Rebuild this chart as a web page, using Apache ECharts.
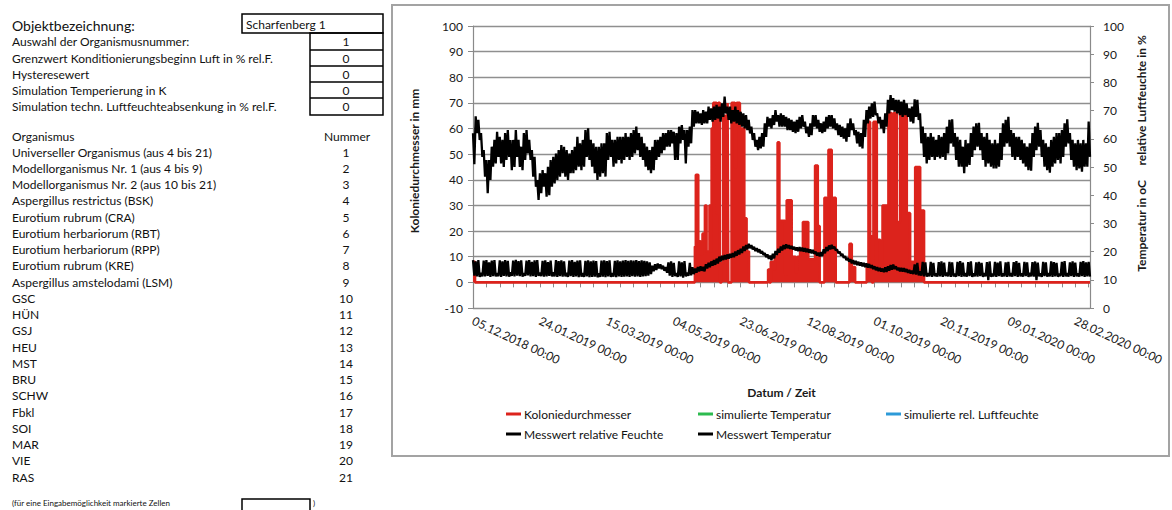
<!DOCTYPE html>
<html><head><meta charset="utf-8">
<script src="https://cdn.jsdelivr.net/npm/echarts@6.0.0/dist/echarts.min.js"></script>
<style>html,body{margin:0;padding:0;background:#fff;}#c{width:1172px;height:510px;}</style>
</head><body><div id="c"></div>
<script>
// ---------- data ----------
const xTickLabels = ['05.12.2018 00:00','24.01.2019 00:00','15.03.2019 00:00','04.05.2019 00:00','23.06.2019 00:00','12.08.2019 00:00','01.10.2019 00:00','20.11.2019 00:00','09.01.2020 00:00','28.02.2020 00:00'];
const xMaxDay = 461; // days after 05.12.2018

// Messwert relative Feuchte: 2-day blocks, upper / lower envelope (%)
const rhHigh = [62,68,66.7,62,56,52.5,52.5,57.2,59.6,62.5,
60.7,59.6,62,63.1,59.6,59.6,63.1,59.6,57.2,62,
63.1,59.6,56,53.6,45.4,47.8,48.9,47.8,50.1,52.5,
53.6,54.8,56,57.8,57.2,56,54.8,56,57.2,60.7,
58.4,59.6,63.1,63.7,59.6,58.4,57.2,57.2,58.4,58.4,
62,62.5,59.6,59.6,60.7,60.7,60.7,62,60.7,62,
63.1,64.3,62,60.7,58.4,57.2,56,57.2,59.6,59.6,
60.7,62,62,63.1,63.1,62.5,62,64.3,64.9,63.1,
63.1,64.3,70.2,70.2,69.6,69,70.2,69.6,71.4,70.8,
71.4,72,71.4,72.6,75,71.4,71.4,70.2,71.4,70.2,
69.6,69,68.4,66.7,64.3,62,59.6,60.7,62,65.5,
67.8,67.2,68.4,70.2,68.4,69,68.4,67.8,67.2,66.7,
66.1,66.7,67.8,68.4,66.1,64.3,65.5,68.4,68.4,66.7,
65.5,66.1,67.8,68.4,68.4,67.2,65.5,64.9,64.3,63.7,
65.5,67.2,65.5,63.1,62.5,62,66.7,70.2,71.4,72.6,
73.2,69,67.8,66.7,69,73.8,75.5,74.4,73.8,73.8,
73.2,73.8,72.6,70.8,71.4,74,73.8,69,64.3,62,
60.7,62,60.7,59.6,61.3,60.7,62,64.3,66.7,66.9,
62,60.7,59.6,57.2,59.6,58.4,62,64.3,65.5,65.7,
62,60.7,62,59.6,58.4,59.6,58.4,62,65.5,66.7,
67.8,63.1,62,60.7,60.7,59.6,58.4,57.2,58.4,62,
64.3,65.7,63.1,59.6,58.4,57.2,59.6,60.7,62,62,
63.1,65.5,66.9,62,59.6,58.4,59.6,58.4,59.6,58.4,
66.1];
const rhLow = [51,62,59.6,53.6,46.6,40.7,45.4,50.1,51.3,53.6,
51.3,50,52.5,53.6,48.9,50,53.6,50,48.9,52.5,
54.8,52.5,46.6,43,38.3,40.7,43,39.5,40,43,
44.2,45.4,46.6,47.8,46.6,45.4,47.8,47.8,48.9,50.1,
48.9,50.1,53.6,52.5,50.1,47.8,45.4,46.6,47.8,46.6,
52.5,53.6,50.1,51.3,52.5,51.3,52.5,53.6,52.5,53.6,
54.8,56,53.6,52.5,50.1,48.9,47.8,48.9,52.5,53.6,
54.8,56,57.2,57.2,58.4,52.5,52.5,58.4,59.6,51.3,
57.2,58.4,64.3,65.5,65.5,64.9,65.5,65.5,66.7,66.1,
66.7,67.2,66.1,67.8,69,66.7,65.5,66.1,65.5,64.9,
64.3,63.7,63.1,61.9,59.6,57.2,56,56.6,57.2,60.7,
64.3,63.7,64.9,66.1,64.3,64.3,64.3,63.1,63.1,62.5,
62,62.5,63.7,64.3,62,60.7,61.3,64.3,63.7,62.5,
62,62.5,63.7,64.3,63.7,63.1,61.3,60.7,60.1,59,
60.7,63.1,61.3,58.4,57.2,56.6,60.7,65.5,67.2,67.8,
68.4,65.5,63.7,62,64.3,69,70.2,69.6,69,68.4,
67.8,68.4,67.8,66.1,65.5,67.8,66.7,58.4,53.6,51.3,
52.5,53.6,52.5,53.6,53,53.6,52.5,54.8,58.4,57.2,
52.5,50.1,50.1,47.8,50.1,50.7,53.6,56,57.2,56,
52.5,50.1,51.3,50.1,49.5,49.5,50.1,52.5,57.2,58.4,
57.2,53.6,52.5,53.6,52.5,51.3,50.1,48.9,48.7,53.6,
56,57.2,53.6,50.1,48.9,48,50.1,51.3,52.5,51.3,
53.6,57.2,58.4,52.5,50.1,48.9,49.5,48.3,50.1,50.1,
53.6];

// Messwert Temperatur: 2-day blocks, upper / lower envelope (°C)
const tempHigh = [17,16.5,17,12.5,16.8,17,16.2,16.8,17,12.3,
16.9,16.5,17,16.7,12.6,16.8,17.1,16.6,16.9,12.4,
16.8,17,16.4,16.9,17,12.5,16.7,16.9,16.3,16.8,
12.6,17,16.6,16.9,16.5,12.5,16.8,17,16.4,16.8,
16.9,12.4,16.7,16.9,16.5,16.8,16.6,12.3,16.8,16.9,
16.6,16.9,12.4,16.7,16.9,16.5,16.8,17,16.7,16.9,
16.8,17,16.6,16.9,16.7,16.5,16.2,15,15.5,15.8,
15.5,15,14.5,16.2,16.5,16,12.4,16.5,16.2,16.6,
12.5,16,14.5,14,14.5,14.8,14.6,15.5,16,16.5,
17,17.5,18.2,18.5,18.8,19,19.2,19.5,20,20.5,
21,21.8,22.3,22.8,22.3,21.7,21.2,20.8,20.2,19.5,
19,18.6,19.2,20.2,21,21.8,22.3,22.6,22.3,22,
21.7,21.5,21.6,21.4,21.2,21,20.8,20.6,20,19.6,
19.8,20.8,21.6,22.2,22.4,21.8,20.8,20,19.2,18.4,
17.8,17.3,17,16.7,16.4,16.2,16,15.8,15.6,15.2,
14.8,14.5,14.2,14,14.4,14.8,15.2,15.4,14.8,14.3,
14.2,14.1,13.8,13.5,13.2,15.5,16,13,16.4,16.2,
12.4,16.4,16,12.3,16.3,16.5,16.1,12.5,16.4,16.2,
12.2,16.4,16.6,16.1,12.4,16.3,16.5,12.3,16.2,16.4,
16,12.4,16.3,16.5,12.2,16.4,16.1,16.5,12.3,16.2,
16.4,12.4,16.3,16.6,16,12.3,16.4,16.2,12.5,16.3,
16.5,16.1,12.3,16.4,16.2,12.4,16.5,16.3,16,12.2,
16.4,16.6,12.4,16.2,16.5,16.1,12.3,16.4,16.6,16.2,
16.4];
const tempLow = [11.5,11.2,11,11.2,11.2,11.4,11,11.3,11.2,11.3,
11,11.4,11.2,11.1,11.4,11.2,11.5,11.3,11.1,11.4,
11.6,11.2,11.3,11,11.4,11.3,11.1,11.2,11.4,11.2,
11.2,11,11.3,11.1,11.2,11,11.3,11,11.2,10.9,
11.1,11,11.2,10.9,11,11.1,10.9,11,11.1,10.9,
11.2,11,11.1,10.9,11.2,11,11.1,11.2,11,11.3,
11.1,11.2,11,11.2,11.3,11.5,12,13,13.5,14,
13.8,13.2,12.5,11.5,11,11.3,11,11.2,10.8,11.2,
11.4,11.6,12,12.5,13,13.2,13,14,14.5,15,
15.3,15.8,16.5,17,17.2,17.5,17.8,18,18.5,19,
19.5,20.2,20.8,21.2,20.8,20.2,19.8,19.4,18.8,18,
17.4,17,17.6,18.8,19.6,20.4,20.9,21.2,21,20.8,
20.4,20.2,20.2,20,19.8,19.6,19.4,19.2,18.6,18.3,
18.4,19.4,20.2,20.8,21,20.4,19.4,18.6,17.8,17,
16.4,15.8,15.5,15.2,15,14.8,14.5,14.3,14.2,13.8,
13.4,13.1,12.9,12.7,12.8,13.2,13.6,13.8,13.4,13,
12.9,12.8,12.5,12.2,12,11.8,11.6,11.5,11.2,11.1,
11.2,11,11.3,11.1,11.2,11,11.3,11.2,11,11.2,
11.1,11.3,11,11.2,11.1,11.3,11,11.2,11.1,11.3,
11,11.2,9.9,11.1,11.2,11,11.3,11.1,11.2,11,
11.2,11.1,11.3,11,11.2,11.1,11.3,11,11.2,11.1,
9.9,11.2,11,11.3,11.1,11.2,11,11.2,11.1,11.3,
11,11.2,11.1,11.3,11,11.2,11.1,11.3,11,11.2,
11.1];

// Koloniedurchmesser (mm): [day, value] held until next entry
const colonyData = [[0,8],[1.5,0],
[165.8,14],[166.5,42],[168.3,16],[170,11],[171.5,19],[173.3,30],[174.5,12],[176.7,30],[177.5,12],[178.3,60],[179.5,70],[182,27],[183.2,70],[184.5,0],[185.7,7.5],[187,65],[190.2,70],[190.7,0],[193.2,70],[195.7,45],[197,70],[199.4,60],[202.7,25],[204.4,12],[206.2,0],
[220.5,5],[221.5,0],[222.5,8],[224.4,5],[225.5,10],[227.6,54.6],[228.9,24],[233.1,3],[234.4,32],[238.1,10],[241,4],[242.5,10],[244.4,12],[246.5,23.5],[250.5,9],[255.6,45.6],[257.6,22],[259,0],[262.6,33],[264.3,5],[265.6,51.7],[268,8],[269.3,33],[271,0],
[281.3,15],[283,6],[285.5,0],[294.2,6],[295.5,62.6],[296.7,18],[298,0],[299.2,62.6],[301.7,16.6],[304.2,3],[306,30],[310.4,66],[312.9,27],[314.2,66],[316.7,23.5],[319.2,66],[321.6,40],[322.9,66],[324.1,27],[326.6,8],[330.4,45],[334.1,28],[337,0],[461,0]];

// left panel
const objectName = 'Scharfenberg 1';
const paramLabels = ['Auswahl der Organismusnummer:','Grenzwert Konditionierungsbeginn Luft in % rel.F.','Hysteresewert','Simulation Temperierung in K','Simulation techn. Luftfeuchteabsenkung in % rel.F.'];
const paramValues = ['1','0','0','0','0'];
const organisms = ['Universeller Organismus (aus 4 bis 21)','Modellorganismus Nr. 1 (aus 4 bis 9)','Modellorganismus Nr. 2 (aus 10 bis 21)','Aspergillus restrictus (BSK)','Eurotium rubrum (CRA)','Eurotium herbariorum (RBT)','Eurotium herbariorum (RPP)','Eurotium rubrum (KRE)','Aspergillus amstelodami (LSM)','GSC','HÜN','GSJ','HEU','MST','BRU','SCHW','Fbkl','SOI','MAR','VIE','RAS'];
const organismNumbers = [1,2,3,4,5,6,7,8,9,10,11,12,13,14,15,16,17,18,19,20,21];

// legend entries: [name, colour]
const legendCols = [
  [['Koloniedurchmesser', '#dc231c'], ['Messwert relative Feuchte', '#000000']],
  [['simulierte Temperatur', '#2dbb4f'], ['Messwert Temperatur', '#000000']],
  [['simulierte rel. Luftfeuchte', '#2d9ad8']]
];

// ---------- build ----------
function envelope(hi, lo) {
  const out = [];
  for (let k = 0; k < hi.length; k++) { out.push([2 * k, hi[k]]); out.push([2 * k + 1, lo[k]]); }
  return out;
}
const FF = 'Lato';
const g = [];
function txt(x, y, s, size, opts) {
  g.push(Object.assign({ type: 'text', x: x, y: y, silent: true,
    style: { text: s, font: size + 'px ' + FF, fill: '#111', verticalAlign: 'middle', align: 'left' } }, opts || {}));
}
// frame around chart
g.push({ type: 'rect', silent: true, z: 0, shape: { x: 392, y: 5, width: 777, height: 451 }, style: { fill: 'none', stroke: '#a3a3a3', lineWidth: 2 } });
// header
txt(12, 25, 'Objektbezeichnung:', 14);
g.push({ type: 'rect', silent: true, shape: { x: 242, y: 14, width: 141, height: 19 }, style: { fill: 'none', stroke: '#000', lineWidth: 1.5 } });
txt(246, 24, objectName, 12);
const rowB = [33, 50, 66, 82, 98, 115];
g.push({ type: 'rect', silent: true, shape: { x: 310, y: 33, width: 73, height: 82 }, style: { fill: 'none', stroke: '#000', lineWidth: 1.5 } });
for (let i = 0; i < paramLabels.length; i++) {
  const cy = (rowB[i] + rowB[i + 1]) / 2;
  txt(12, cy, paramLabels[i], 12);
  g.push({ type: 'text', x: 346, y: cy, silent: true, style: { text: paramValues[i], font: '12px ' + FF, fill: '#111', align: 'center', verticalAlign: 'middle' } });
  if (i > 0) g.push({ type: 'line', silent: true, shape: { x1: 310, y1: rowB[i], x2: 383, y2: rowB[i] }, style: { stroke: '#000', lineWidth: 1.5 } });
}
txt(12, 136, 'Organismus', 12);
g.push({ type: 'text', x: 347, y: 136, silent: true, style: { text: 'Nummer', font: '12px ' + FF, fill: '#111', align: 'center', verticalAlign: 'middle' } });
for (let i = 0; i < organisms.length; i++) {
  const cy = 152 + i * 16.25;
  txt(12, cy, organisms[i], 12);
  g.push({ type: 'text', x: 346, y: cy, silent: true, style: { text: String(organismNumbers[i]), font: '12px ' + FF, fill: '#111', align: 'center', verticalAlign: 'middle' } });
}
txt(12, 503, '(für eine Eingabemöglichkeit markierte Zellen', 8);
g.push({ type: 'rect', silent: true, shape: { x: 242, y: 499, width: 68, height: 16 }, style: { fill: 'none', stroke: '#000', lineWidth: 1.5 } });
txt(313, 503, ')', 8);

const axisGray = '#8a8a8a';
const labelColor = '#1a1a1a';
const legendLefts = [506, 698, 886];
const legends = legendCols.map(function (col, ci) {
  return {
    orient: 'vertical', top: 408, left: legendLefts[ci], itemGap: 8, itemWidth: 15, itemHeight: 3, padding: 0, selectedMode: false,
    data: col.map(function (it) {
      return { name: it[0], icon: 'rect', itemStyle: { color: it[1], borderWidth: 0, borderColor: 'rgba(0,0,0,0)' } };
    }),
    textStyle: { fontFamily: FF, fontSize: 12, color: '#111', padding: [0, 0, 0, -2] }
  };
});

const chart = echarts.init(document.getElementById('c'), null, { renderer: 'svg' });
chart.setOption({
  animation: false,
  backgroundColor: '#fff',
  textStyle: { fontFamily: FF },
  graphic: g,
  grid: { left: 473, top: 26, width: 617, height: 282, containLabel: false, outerBoundsMode: 'none' },
  legend: legends,
  xAxis: {
    type: 'value', min: 0, max: xMaxDay, interval: 10,
    name: 'Datum / Zeit', nameLocation: 'middle', nameGap: 78,
    nameTextStyle: { fontFamily: FF, fontWeight: 'bold', fontSize: 12, color: labelColor },
    axisLine: { show: true, lineStyle: { color: axisGray, width: 1.2 } },
    axisTick: { show: true, length: 5, inside: false, lineStyle: { color: axisGray } },
    splitLine: { show: false },
    axisLabel: { rotate: -25, margin: 12, fontSize: 12, color: labelColor, showMaxLabel: false, hideOverlap: false,
      formatter: function (v) { return (v % 50 === 0 && v / 50 < xTickLabels.length) ? xTickLabels[v / 50] : ''; } }
  },
  yAxis: [
    { type: 'value', min: -10, max: 100, interval: 10, position: 'left',
      name: 'Koloniedurchmesser in mm', nameLocation: 'middle', nameGap: 53,
      nameTextStyle: { fontFamily: FF, fontWeight: 'bold', fontSize: 12, color: labelColor, padding: [0, 0, 0, 12] },
      axisLine: { show: true, lineStyle: { color: axisGray, width: 1.2 } },
      axisTick: { show: true, length: 5, inside: false, lineStyle: { color: axisGray } },
      splitLine: { show: true, lineStyle: { color: '#8f8f8f', width: 1.4 } },
      axisLabel: { fontSize: 12, color: labelColor, margin: 10 } },
    { type: 'value', min: 0, max: 100, interval: 10, position: 'right',
      name: 'Temperatur in oC     relative Luftfeuchte in %', nameLocation: 'middle', nameGap: 45, nameRotate: 90,
      nameTextStyle: { fontFamily: FF, fontWeight: 'bold', fontSize: 12, color: labelColor, padding: [0, 0, 0, 27] },
      axisLine: { show: true, lineStyle: { color: axisGray, width: 1.2 } },
      axisTick: { show: true, length: 4, inside: false, lineStyle: { color: axisGray } },
      splitLine: { show: false },
      axisLabel: { fontSize: 12, color: labelColor, margin: 13 } }
  ],
  series: [
    // fill under the colony-diameter steps (dense hourly oscillation appears solid)
    { name: 'Koloniedurchmesser (Fläche)', type: 'line', yAxisIndex: 0, step: 'end', data: colonyData, symbol: 'none', silent: true,
      lineStyle: { width: 0 }, itemStyle: { color: '#dc231c' }, areaStyle: { color: '#dc231c', opacity: 1, origin: 0 } },
    { name: 'Koloniedurchmesser', type: 'line', yAxisIndex: 0, step: 'end', data: colonyData, symbol: 'none', silent: true,
      lineStyle: { color: '#dc231c', width: 2.6 }, itemStyle: { color: '#dc231c' } },
    { name: 'simulierte Temperatur', type: 'line', yAxisIndex: 1, data: [], symbol: 'none',
      lineStyle: { color: '#2dbb4f', width: 2.5 }, itemStyle: { color: '#2dbb4f' } },
    { name: 'simulierte rel. Luftfeuchte', type: 'line', yAxisIndex: 1, data: [], symbol: 'none',
      lineStyle: { color: '#2d9ad8', width: 2.5 }, itemStyle: { color: '#2d9ad8' } },
    { name: 'Messwert relative Feuchte', type: 'line', yAxisIndex: 1, data: envelope(rhHigh, rhLow), symbol: 'none', silent: true,
      lineStyle: { color: '#000', width: 2.3 }, itemStyle: { color: '#000' } },
    { name: 'Messwert Temperatur', type: 'line', yAxisIndex: 1, data: envelope(tempHigh, tempLow), symbol: 'none', silent: true,
      lineStyle: { color: '#000', width: 2.3 }, itemStyle: { color: '#000' } }
  ]
});
</script></body></html>
